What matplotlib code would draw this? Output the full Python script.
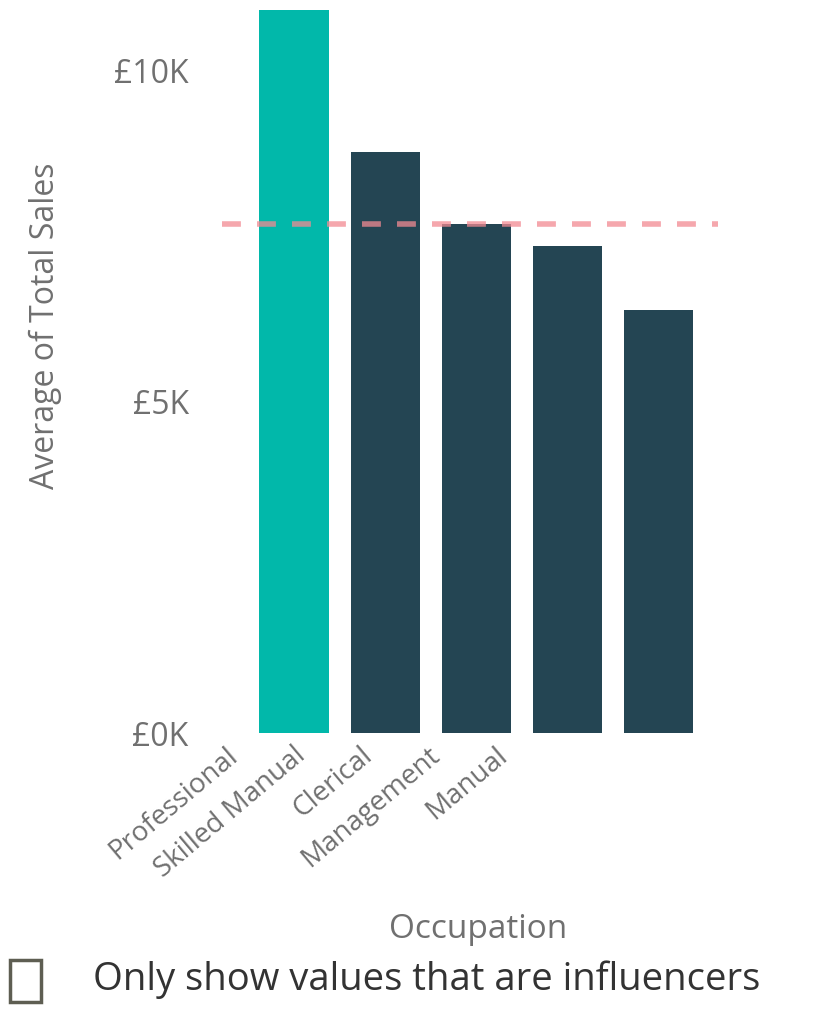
import matplotlib
matplotlib.use('Agg')
import matplotlib.pyplot as plt
from matplotlib.patches import Rectangle
from matplotlib.ticker import FuncFormatter

plt.rcParams['font.family'] = ['Open Sans', 'DejaVu Sans']

occupations = ['Professional', 'Skilled Manual', 'Clerical', 'Management', 'Manual']
avg_sales = [10920, 8780, 7690, 7360, 6390]
overall_avg = 7690
highlight = 'Professional'

W, H = 827, 1009
fig = plt.figure(figsize=(W / 100, H / 100), dpi=100)

# axes placed in pixel terms of the reference
left, right, bottom, top = 222, 718, 733, 0
ax = fig.add_axes([left / W, 1 - bottom / H, (right - left) / W, (bottom - top) / H])

colors = ['#01B8AA' if o == highlight else '#244553' for o in occupations]
xs = range(len(occupations))
ax.bar(xs, avg_sales, width=0.76, color=colors)
ax.axhline(overall_avg, color='#F28A92', lw=4, dashes=(3.4, 2.9), alpha=0.75)

ax.set_xlim(-0.79, 4.65)
ax.set_ylim(0, 11070)
ax.set_yticks([0, 5000, 10000])
ax.yaxis.set_major_formatter(FuncFormatter(lambda v, p: '£%dK' % (v / 1000)))
ax.tick_params(axis='y', length=0, pad=24, labelsize=23, labelcolor='#707070')
ax.set_xticks([])
for s in ax.spines.values():
    s.set_visible(False)

ax.set_ylabel('Average of Total Sales', fontsize=23, color='#707070')
ax.yaxis.set_label_coords(-0.322, 0.556)

# category labels sit on a compressed axis, like in the reference
ax2 = ax.twiny()
ax2.set_xlim(-0.05, 7.30)
ax2.xaxis.set_ticks_position('bottom')
ax2.set_xticks(list(xs))
ax2.set_xticklabels(occupations, rotation=40, ha='right', va='top',
                    rotation_mode='anchor', fontsize=20, color='#707070')
ax2.tick_params(axis='x', length=0, pad=6)
for s in ax2.spines.values():
    s.set_visible(False)

fig.text(478 / W, 1 - 930 / H, 'Occupation', ha='center', va='center',
         fontsize=24, color='#707070')

fig.patches.append(Rectangle((10 / W, 1 - 1002 / H), 31 / W, 42 / H,
                             transform=fig.transFigure, fill=False,
                             edgecolor='#5E5E52', lw=2.5))
fig.text(93 / W, 1 - 980 / H, 'Only show values that are influencers',
         ha='left', va='center', fontsize=27.5, color='#333333')

fig.savefig('out.png', dpi=100)
